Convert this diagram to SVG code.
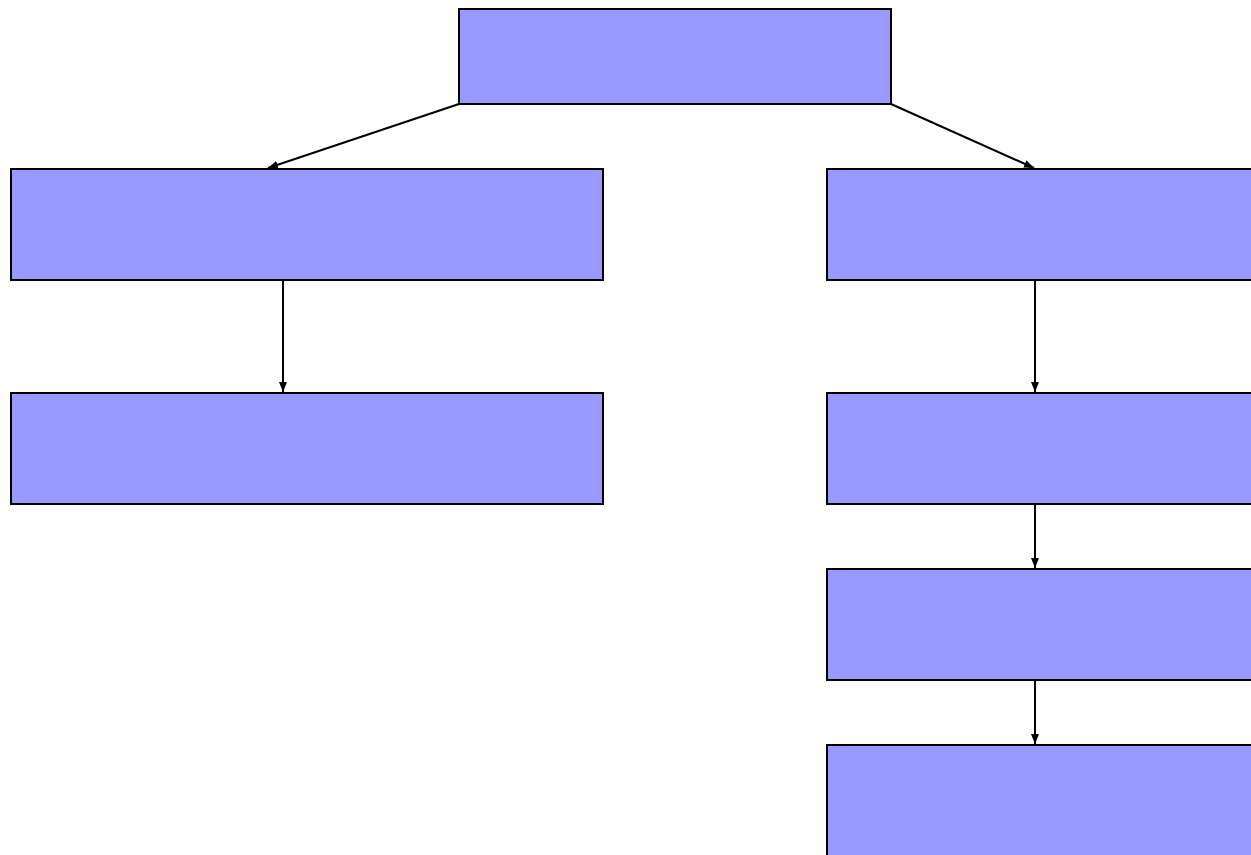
<svg xmlns="http://www.w3.org/2000/svg" width="1251" height="855" viewBox="0 0 1251 855">
<style>
.n{fill:#9999ff;stroke:#000;stroke-width:2}
.e{stroke:#000;stroke-width:2;fill:none;marker-end:url(#ah)}
</style>
<defs>
<marker id="ah" markerWidth="10" markerHeight="8" refX="10" refY="4" orient="auto" markerUnits="userSpaceOnUse">
<path d="M0,0 L10,4 L0,8 Z" fill="#000"/>
</marker>
</defs>
<rect width="1251" height="855" fill="#fff"/>
<g id="n0"><rect class="n" x="459" y="9" width="432" height="95"/></g>
<g id="n1"><rect class="n" x="11" y="169" width="592" height="111"/></g>
<g id="n2"><rect class="n" x="11" y="393" width="592" height="111"/></g>
<g id="n3"><rect class="n" x="827" y="169" width="592" height="111"/></g>
<g id="n4"><rect class="n" x="827" y="393" width="592" height="111"/></g>
<g id="n5"><rect class="n" x="827" y="569" width="592" height="111"/></g>
<g id="n6"><rect class="n" x="827" y="745" width="592" height="111"/></g>
<g id="edges">
<line class="e" x1="459" y1="104" x2="268" y2="168"/>
<line class="e" x1="891" y1="104" x2="1034" y2="168"/>
<line class="e" x1="283" y1="281" x2="283" y2="392"/>
<line class="e" x1="1035" y1="281" x2="1035" y2="392"/>
<line class="e" x1="1035" y1="505" x2="1035" y2="568"/>
<line class="e" x1="1035" y1="681" x2="1035" y2="744"/>
</g>
</svg>
